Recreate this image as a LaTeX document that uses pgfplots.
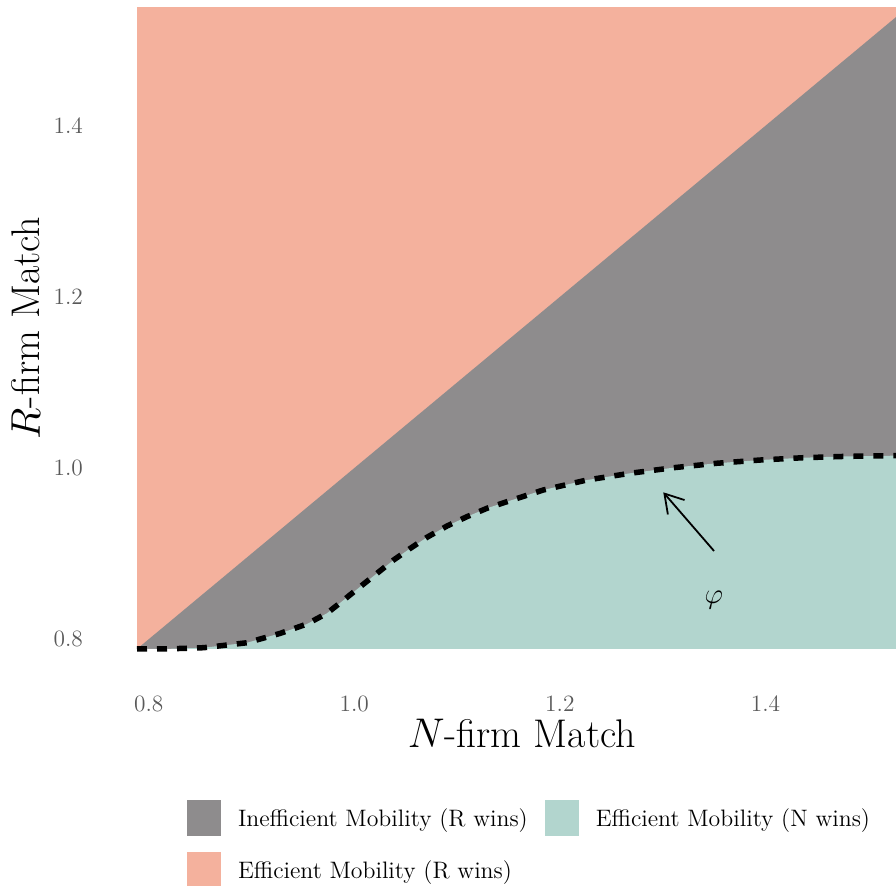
\documentclass[border=0pt]{standalone}
\usepackage{pgfplots}
\pgfplotsset{compat=1.18}
\usetikzlibrary{arrows.meta}
\definecolor{salmonR}{HTML}{F4B19D}
\definecolor{grayI}{HTML}{8E8C8D}
\definecolor{tealN}{HTML}{B2D5CE}
\definecolor{tickgray}{HTML}{595959}
\begin{document}
\begin{tikzpicture}
\path[use as bounding box] (-68.5pt,-118.5pt) rectangle (379.5pt,324.5pt);
\begin{axis}[
  scale only axis, width=379.5pt, height=321pt,
  xmin=0.7886, xmax=1.527, ymin=0.7886, ymax=1.5388,
  clip=false,
  axis line style={draw=none},
  major tick length=0pt, tick style={draw=none},
  xtick={0.8,1.0,1.2,1.4}, ytick={0.8,1.0,1.2,1.4},
  xticklabels={0.8,1.0,1.2,1.4}, yticklabels={0.8,1.0,1.2,1.4},
  ticklabel style={font=\fontsize{11.7}{13}\selectfont, text=tickgray, inner sep=0pt},
  xticklabel style={anchor=base, yshift=-31.5pt},
  yticklabel style={anchor=east, xshift=-26.85pt},
  xlabel={$N$-firm Match}, ylabel={$R$-firm Match},
  label style={font=\fontsize{20}{24}\selectfont},
  xlabel style={at={(axis description cs:0.5072,-0.1542)}, anchor=base},
  ylabel style={at={(axis description cs:-0.1278,0.5)}, anchor=base},
  legend columns=2,
  legend cell align=left,
  legend style={at={(axis description cs:0.06588,-0.2352)}, anchor=north west,
    draw=none, fill=none, inner sep=0pt, outer sep=0pt,
    font=\fontsize{11.9}{13.5}\selectfont, column sep=8.5pt, row sep=8pt,
    nodes={inner sep=0pt}},
  legend image code/.code={\fill[#1] (0pt,-8.35pt) rectangle (17pt,9.65pt);},
]
\addplot[fill=salmonR, draw=none, forget plot] coordinates {(0.7886,0.7886) (1.527,0.7886) (1.527,1.5388) (0.7886,1.5388)} -- cycle;
\addplot[fill=grayI, draw=none] coordinates {(0.7886,0.7886) (1.527,1.527) (1.527,0.7886)} -- cycle;
\addlegendentry{Inefficient Mobility (R wins)}
\addplot[fill=tealN, draw=none] coordinates {
(0.7886,0.7886) (0.82,0.7888) (0.8535,0.7901) (0.8956,0.7959) (0.928,0.8069) (0.954,0.8178)
(0.9734,0.8303) (0.9897,0.8458) (1.0058,0.8614) (1.0221,0.877) (1.0383,0.8926) (1.0545,0.9062)
(1.0707,0.9191) (1.0902,0.9323) (1.1096,0.9432) (1.1291,0.953) (1.1485,0.9607) (1.1839,0.9744)
(1.2261,0.986) (1.2682,0.9939) (1.3103,1.0004) (1.3525,1.0056) (1.3947,1.0094) (1.4368,1.0121)
(1.479,1.0137) (1.527,1.0145) (1.527,0.7886)} -- cycle;
\addlegendentry{Efficient Mobility (N wins)}
\addplot[black, line width=2.75pt, dash pattern=on 5pt off 5pt, forget plot] coordinates {
(0.7886,0.7886) (0.82,0.7888) (0.8535,0.7901) (0.8956,0.7959) (0.928,0.8069) (0.954,0.8178)
(0.9734,0.8303) (0.9897,0.8458) (1.0058,0.8614) (1.0221,0.877) (1.0383,0.8926) (1.0545,0.9062)
(1.0707,0.9191) (1.0902,0.9323) (1.1096,0.9432) (1.1291,0.953) (1.1485,0.9607) (1.1839,0.9744)
(1.2261,0.986) (1.2682,0.9939) (1.3103,1.0004) (1.3525,1.0056) (1.3947,1.0094) (1.4368,1.0121)
(1.479,1.0137) (1.527,1.0145)};
\addplot[black, line width=0.9pt, -{Straight Barb[length=9pt,width=11pt]}, forget plot] coordinates {(1.35,0.9031) (1.3006,0.9717)};
\addlegendimage{fill=salmonR, draw=none}
\addlegendentry{Efficient Mobility (R wins)}
\node at (axis cs:1.3499,0.8458) {\fontsize{14.5}{16}\selectfont$\varphi$};
\end{axis}
\end{tikzpicture}
\end{document}
